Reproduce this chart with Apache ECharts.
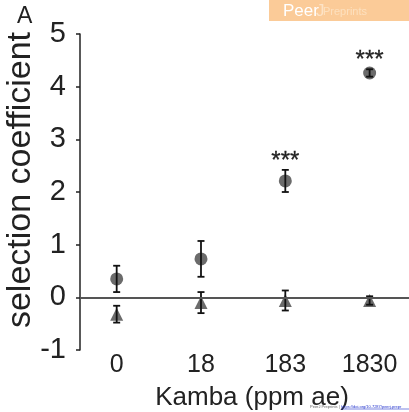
<!DOCTYPE html>
<html>
<head>
<meta charset="utf-8">
<script src="https://cdn.jsdelivr.net/npm/echarts@6/dist/echarts.min.js"></script>
<style>
html,body{margin:0;padding:0;background:#fff;}
#chart{width:409px;height:412px;}
</style>
</head>
<body>
<div id="chart"></div>
<script>
var categories = ["0", "18", "183", "1830"];
var circleMean = [0.35, 0.73, 2.21, 4.26];
var circleErr = [0.25, 0.34, 0.21, 0.07];
var triangleMean = [-0.32, -0.10, -0.06, -0.06];
var triangleErr = [0.16, 0.20, 0.19, 0.08];
var significance = ["", "", "***", "***"];
var yTicks = [-1, 0, 1, 2, 3, 4, 5];

var FONT = "Liberation Sans, Arial, sans-serif";

function pts(means) { return means.map(function (m, i) { return [i, m]; }); }
function errs(means, es) { return means.map(function (m, i) { return [i, m - es[i], m + es[i]]; }); }

function errRender(params, api) {
  var x = api.value(0);
  var lo = api.coord([x, api.value(1)]);
  var hi = api.coord([x, api.value(2)]);
  var hw = 3.5;
  var st = { stroke: '#111', lineWidth: 1.8 };
  return {
    type: 'group',
    children: [
      { type: 'line', shape: { x1: lo[0], y1: lo[1], x2: hi[0], y2: hi[1] }, style: st },
      { type: 'line', shape: { x1: lo[0] - hw, y1: lo[1], x2: lo[0] + hw, y2: lo[1] }, style: st },
      { type: 'line', shape: { x1: hi[0] - hw, y1: hi[1], x2: hi[0] + hw, y2: hi[1] }, style: st }
    ]
  };
}

var chart = echarts.init(document.getElementById('chart'), null, { renderer: 'canvas' });
chart.setOption({
  animation: false,
  backgroundColor: '#fff',
  grid: { left: 80, right: 0, top: 34, bottom: 62 },
  xAxis: {
    type: 'value',
    min: -0.435,
    max: 3.467,
    axisLine: { show: false, onZero: false },
    axisTick: { show: false },
    splitLine: { show: false },
    axisLabel: {
      customValues: [0, 1, 2, 3],
      formatter: function (v) { return categories[Math.round(v)]; },
      fontFamily: FONT, fontSize: 25, color: '#222', margin: 3
    }
  },
  yAxis: {
    type: 'value',
    min: yTicks[0],
    max: yTicks[yTicks.length - 1],
    interval: 1,
    axisLine: { show: true, onZero: false, lineStyle: { color: '#222', width: 1.5 } },
    axisTick: { show: true, length: 4, lineStyle: { color: '#222', width: 1.5 } },
    splitLine: { show: false },
    axisLabel: { fontFamily: FONT, fontSize: 29, color: '#222', margin: 14 }
  },
  series: [
    {
      type: 'scatter', data: pts(circleMean), symbol: 'circle', symbolSize: 13,
      itemStyle: { color: '#6b6b6b', opacity: 1 }, z: 2,
      markLine: {
        silent: true, symbol: 'none', label: { show: false },
        lineStyle: { color: '#555', width: 2, type: 'solid' },
        data: [{ yAxis: 0 }]
      }
    },
    {
      type: 'scatter', data: pts(triangleMean), symbol: 'triangle', symbolSize: 13,
      itemStyle: { color: '#6b6b6b', opacity: 1 }, z: 2
    },
    { type: 'custom', data: errs(circleMean, circleErr), renderItem: errRender, z: 3 },
    { type: 'custom', data: errs(triangleMean, triangleErr), renderItem: errRender, z: 3 },
    {
      type: 'custom',
      data: circleMean.map(function (m, i) { return [i, m + circleErr[i], i]; }),
      renderItem: function (params, api) {
        var p = api.coord([api.value(0), api.value(1)]);
        var t = significance[api.value(2)];
        return {
          type: 'text',
          style: { text: t, x: p[0], y: p[1] + 3, align: 'center', verticalAlign: 'bottom',
                   fontFamily: FONT, fontSize: 24, fill: '#222', stroke: '#222', lineWidth: 0.3 }
        };
      },
      z: 4
    }
  ],
  graphic: [
    { type: 'text', left: 17, top: 5, style: { text: 'A', fontFamily: FONT, fontSize: 23, fill: '#222' } },
    { type: 'text', x: 21, y: 180, rotation: Math.PI / 2,
      style: { text: 'selection coefficient', fontFamily: FONT, fontSize: 34, fill: '#222', align: 'center', verticalAlign: 'middle' } },
    { type: 'text', x: 252, y: 398,
      style: { text: 'Kamba (ppm ae)', fontFamily: FONT, fontSize: 26, fill: '#222', align: 'center', verticalAlign: 'middle' } },
    { type: 'rect', shape: { x: 269, y: 0, width: 140, height: 21 }, style: { fill: '#fbcb98' } },
    { type: 'text', x: 283, y: 11, style: { text: 'Peer', fontFamily: FONT, fontSize: 17, fill: '#ffffff', verticalAlign: 'middle' } },
    { type: 'text', x: 316, y: 11, style: { text: 'J', fontFamily: FONT, fontSize: 17, fill: '#fde3c6', verticalAlign: 'middle' } },
    { type: 'text', x: 323, y: 12, style: { text: 'Preprints', fontFamily: FONT, fontSize: 11, fill: '#fde0be', verticalAlign: 'middle' } },
    { type: 'text', x: 310, y: 407, style: { text: 'PeerJ Preprints |', fontFamily: FONT, fontSize: 4, fill: '#666', verticalAlign: 'middle' } },
    { type: 'text', x: 341, y: 407, style: { text: 'https://doi.org/10.7287/peerj.prepr', fontFamily: FONT, fontSize: 4, fill: '#2233cc', verticalAlign: 'middle' } },
    { type: 'line', shape: { x1: 341, y1: 409, x2: 409, y2: 409 }, style: { stroke: '#2233cc', lineWidth: 0.6 } }
  ]
});
</script>
</body>
</html>
